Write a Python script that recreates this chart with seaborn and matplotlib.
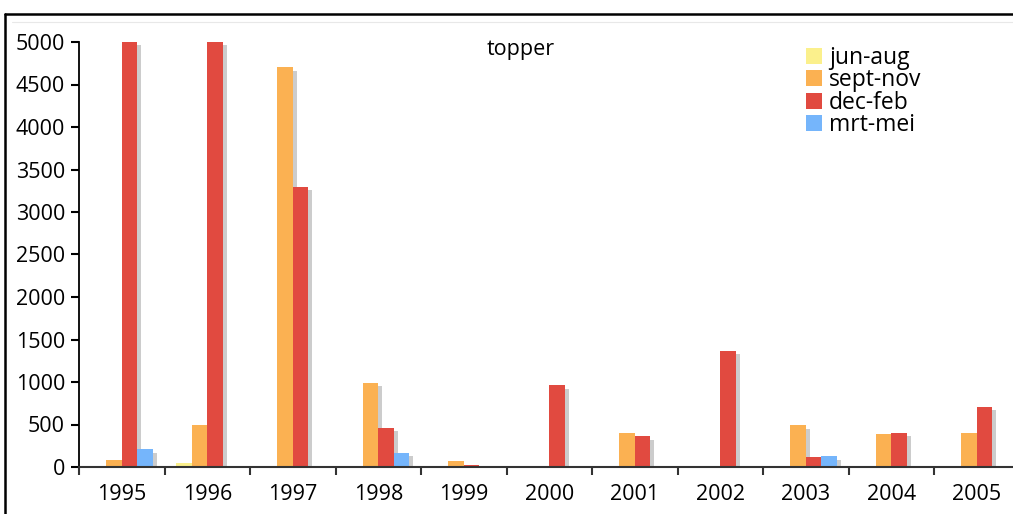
import numpy as np
import pandas as pd
import matplotlib
matplotlib.use("Agg")
import matplotlib.pyplot as plt
import matplotlib.patheffects as pe
from matplotlib.lines import Line2D
import seaborn as sns

years = ["1995", "1996", "1997", "1998", "1999", "2000", "2001", "2002", "2003", "2004", "2005"]
seasons = ["jun-aug", "sept-nov", "dec-feb", "mrt-mei"]
jun_aug  = [0, 50, 0, 0, 0, 0, 0, 0, 0, 0, 0]
sept_nov = [80, 500, 4700, 990, 70, 0, 400, 0, 490, 390, 400]
dec_feb  = [5000, 5000, 3300, 460, 20, 960, 360, 1370, 115, 400, 710]
mrt_mei  = [210, 0, 0, 170, 0, 0, 0, 0, 125, 0, 0]
colors = ["#fbf08c", "#fbb152", "#e14a40", "#75b5fb"]

df = pd.DataFrame({
    "year": years * 4,
    "season": sum([[s] * len(years) for s in seasons], []),
    "value": jun_aug + sept_nov + dec_feb + mrt_mei,
})

sns.set_theme(style="white")
plt.rcParams["font.family"] = ["Open Sans", "DejaVu Sans"]

fig = plt.figure(figsize=(10.13, 5.14), dpi=100)
ax = fig.add_axes([79 / 1013, 47 / 514, 940.5 / 1013, 425 / 514])

sns.barplot(data=df, x="year", y="value", hue="season", order=years,
            hue_order=seasons, palette=colors, width=0.725, saturation=1,
            edgecolor="none", linewidth=0, ax=ax, legend=True)

for c in ax.containers:
    for p in c:
        p.set_path_effects([pe.SimplePatchShadow(offset=(3, -2.5), shadow_rgbFace="#cccccc", alpha=1),
                            pe.Normal()])

ax.set_xlim(-0.5, len(years) - 0.5)
ax.set_ylim(0, 5000)
ax.set_yticks(np.arange(0, 5001, 500))
ax.set_yticklabels([str(v) for v in range(0, 5001, 500)], fontsize=15.5)
ax.set_xticks(np.arange(-0.5, len(years)), labels=[""] * (len(years) + 1))
ax.set_xticks(np.arange(len(years)), labels=years, minor=True)
ax.tick_params(axis="x", which="major", direction="out", length=6, width=1.5, color="#333333", bottom=True)
ax.tick_params(axis="x", which="minor", length=0, pad=12, labelsize=15.5, labelcolor="black")
ax.tick_params(axis="y", direction="out", length=6, width=1.5, color="black", left=True, pad=4, labelcolor="black")
ax.set_xlabel("")
ax.set_ylabel("")
for s in ["top", "right"]:
    ax.spines[s].set_visible(False)
ax.spines["left"].set_color("black")
ax.spines["left"].set_linewidth(1.3)
ax.spines["bottom"].set_color("#333333")
ax.spines["bottom"].set_linewidth(1.5)
ax.spines["bottom"].set_zorder(5)
ax.grid(False)

handles, labels = ax.get_legend_handles_labels()
leg = ax.legend(handles, labels, loc="upper left", bbox_to_anchor=(806 / 1013, 1 - 46 / 514),
                bbox_transform=fig.transFigure, frameon=False, fontsize=16.5,
                handlelength=0.7, handleheight=0.7, handletextpad=0.3, labelspacing=-0.07,
                borderpad=0, borderaxespad=0)
for h in leg.legend_handles:
    h.set_path_effects([])
for t in leg.get_texts():
    t.set_color("black")

fig.text(521 / 1013, 1 - 50 / 514, "topper", ha="center", va="center", fontsize=15.5, color="black")

fig.add_artist(Line2D([5 / 1013, 1], [1 - 14 / 514, 1 - 14 / 514], transform=fig.transFigure,
                      color="black", lw=1.8))
fig.add_artist(Line2D([5 / 1013, 5 / 1013], [0, 1 - 14 / 514], transform=fig.transFigure,
                      color="black", lw=1.8))
fig.add_artist(Line2D([12 / 1013, 1], [1 - 22 / 514, 1 - 22 / 514], transform=fig.transFigure,
                      color="#e8e8e8", lw=0.8))

fig.savefig("out.png", dpi=100)
